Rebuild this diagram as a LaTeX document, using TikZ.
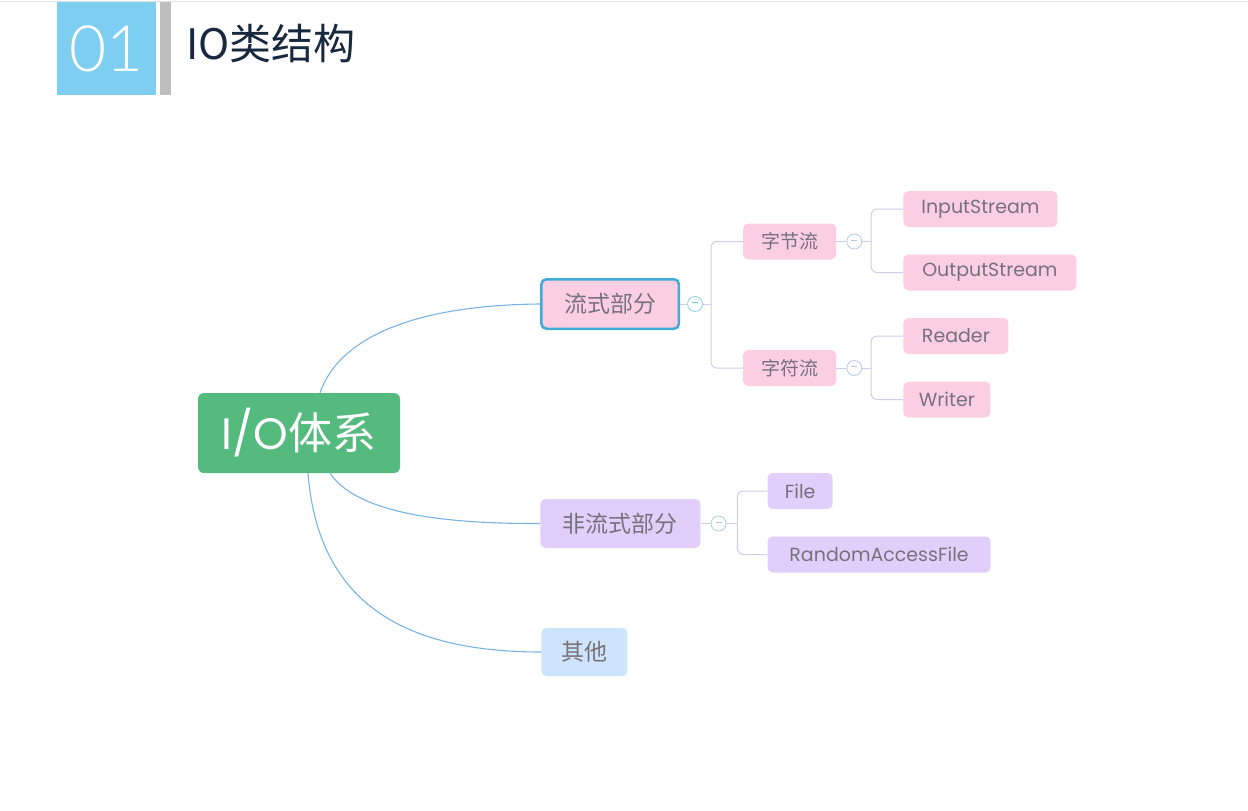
\documentclass[tikz,border=0pt]{standalone}
\usepackage{fontspec}
\setmainfont{Noto Sans CJK SC}
\newfontfamily\geo{Poppins}
\newfontfamily\thinfont{Lato Light}
\usepackage{tikz}
\usetikzlibrary{positioning}
\definecolor{badgeblue}{RGB}{125,206,240}
\definecolor{bargrey}{RGB}{190,190,190}
\definecolor{rulegrey}{RGB}{228,228,228}
\definecolor{titlenavy}{RGB}{24,40,62}
\definecolor{rootgreen}{RGB}{84,186,126}
\definecolor{pinkbg}{RGB}{252,206,226}
\definecolor{lilacbg}{RGB}{226,206,250}
\definecolor{skybg}{RGB}{206,228,250}
\definecolor{flowborder}{RGB}{62,172,214}
\definecolor{labelgrey}{RGB}{118,114,124}
\definecolor{linkblue}{RGB}{120,180,230}
\definecolor{tieline}{RGB}{206,206,236}
\definecolor{knobline}{RGB}{180,200,226}
\newcommand{\knobbar}{\textcolor{knobline}{\rule[2.5pt]{6pt}{0.9pt}}}
\tikzset{
  rootbox/.style={fill=rootgreen,rounded corners=6pt,text=white,inner sep=0pt,
                  font=\fontsize{44}{44}\selectfont,minimum width=202pt,minimum height=80pt},
  mainbox/.style={rounded corners=5pt,text=labelgrey,inner sep=0pt,
                  font=\fontsize{23}{23}\selectfont,minimum height=49pt},
  subbox/.style={rounded corners=5pt,fill=pinkbg,text=labelgrey,inner sep=0pt,
                 font=\fontsize{19}{19}\selectfont,minimum width=93pt,minimum height=36pt},
  leaf/.style={rounded corners=5pt,text=labelgrey,inner sep=0pt,
               font=\geo\fontsize{19}{19}\selectfont,minimum height=36pt},
  knob/.style={circle,draw=knobline,fill=white,line width=0.8pt,minimum size=15pt,inner sep=0pt},
  link/.style={draw=linkblue,line width=1.1pt},
  tie/.style={draw=tieline,line width=1pt,rounded corners=6pt},
}
\begin{document}
\begin{tikzpicture}[x=1pt,y=-1pt]
  \useasboundingbox[fill=white] (0,0) rectangle (1248,811);
  \draw[rulegrey,line width=1.5pt] (0,1.5) -- (1248,1.5);

  % header
  \node[fill=badgeblue,text=white,minimum width=99pt,minimum height=93pt,inner sep=0pt,
        font=\thinfont\fontsize{64}{64}\selectfont] (badge) at (106.5,48.5) {01};
  \node[fill=bargrey,minimum width=11pt,minimum height=93pt,inner sep=0pt,
        right=4pt of badge] (bar) {};
  \node[anchor=west,text=titlenavy,inner sep=0pt,font=\fontsize{42}{42}\selectfont]
        (title) at (186,44) {IO类结构};

  % mind map
  \node[rootbox] (root) at (299,433) {{\geo I/O}体系};

  \node[mainbox,fill=pinkbg,draw=flowborder,line width=2.5pt,minimum width=137.5pt,
        minimum height=49.5pt,right=140pt of root,yshift=129pt] (flow) {流式部分};
  \node[mainbox,fill=lilacbg,minimum width=160pt,right=140pt of root,yshift=-90.5pt]
        (nonflow) {非流式部分};
  \node[mainbox,fill=skybg,minimum width=86pt,minimum height=48pt,
        right=141pt of root,yshift=-219pt] (other) {其他};

  \node[knob,draw=flowborder!60,right=7pt of flow] (knobA)
        {\textcolor{flowborder!70}{\rule[2.5pt]{6pt}{0.9pt}}};
  \node[subbox,right=40pt of knobA,yshift=62.5pt] (byte) {字节流};
  \node[subbox,right=40pt of knobA,yshift=-64pt] (char) {字符流};

  \node[knob,right=10pt of byte] (knobB) {\knobbar};
  \node[leaf,fill=pinkbg,minimum width=154pt,right=41pt of knobB,yshift=32.5pt]
        (instream) {InputStream};
  \node[leaf,fill=pinkbg,minimum width=173pt,right=41pt of knobB,yshift=-31pt]
        (outstream) {OutputStream};

  \node[knob,right=10pt of char] (knobC) {\knobbar};
  \node[leaf,fill=pinkbg,minimum width=105pt,right=41pt of knobC,yshift=32pt]
        (reader) {Reader};
  \node[leaf,fill=pinkbg,minimum width=87pt,right=41pt of knobC,yshift=-31.5pt]
        (writer) {Writer};

  \node[knob,right=10pt of nonflow] (knobD) {\knobbar};
  \node[leaf,fill=lilacbg,minimum width=65pt,right=41pt of knobD,yshift=32.5pt]
        (file) {File};
  \node[leaf,fill=lilacbg,minimum width=223pt,right=41pt of knobD,yshift=-31pt]
        (raf) {RandomAccessFile};

  % curves from the root
  \draw[link] ([xshift=21pt]root.north) .. controls (340,335) and (420,305) .. (flow.west);
  \draw[link] ([xshift=31pt]root.south) .. controls (355,510) and (430,524) .. (nonflow.west);
  \draw[link] ([xshift=9pt]root.south) .. controls (318,600) and (400,652) .. (other.west);

  % brackets
  \draw[tie] (flow) -- (knobA);
  \draw[tie] (knobA.east) -- ++(8pt,0) coordinate (jA);
  \draw[tie] (jA) |- (byte.west);
  \draw[tie] (jA) |- (char.west);

  \draw[tie] (byte) -- (knobB);
  \draw[tie] (knobB.east) -- ++(9pt,0) coordinate (jB);
  \draw[tie] (jB) |- (instream.west);
  \draw[tie] (jB) |- (outstream.west);

  \draw[tie] (char) -- (knobC);
  \draw[tie] (knobC.east) -- ++(9pt,0) coordinate (jC);
  \draw[tie] (jC) |- (reader.west);
  \draw[tie] (jC) |- (writer.west);

  \draw[tie] (nonflow) -- (knobD);
  \draw[tie] (knobD.east) -- ++(11pt,0) coordinate (jD);
  \draw[tie] (jD) |- (file.west);
  \draw[tie] (jD) |- (raf.west);
\end{tikzpicture}
\end{document}
